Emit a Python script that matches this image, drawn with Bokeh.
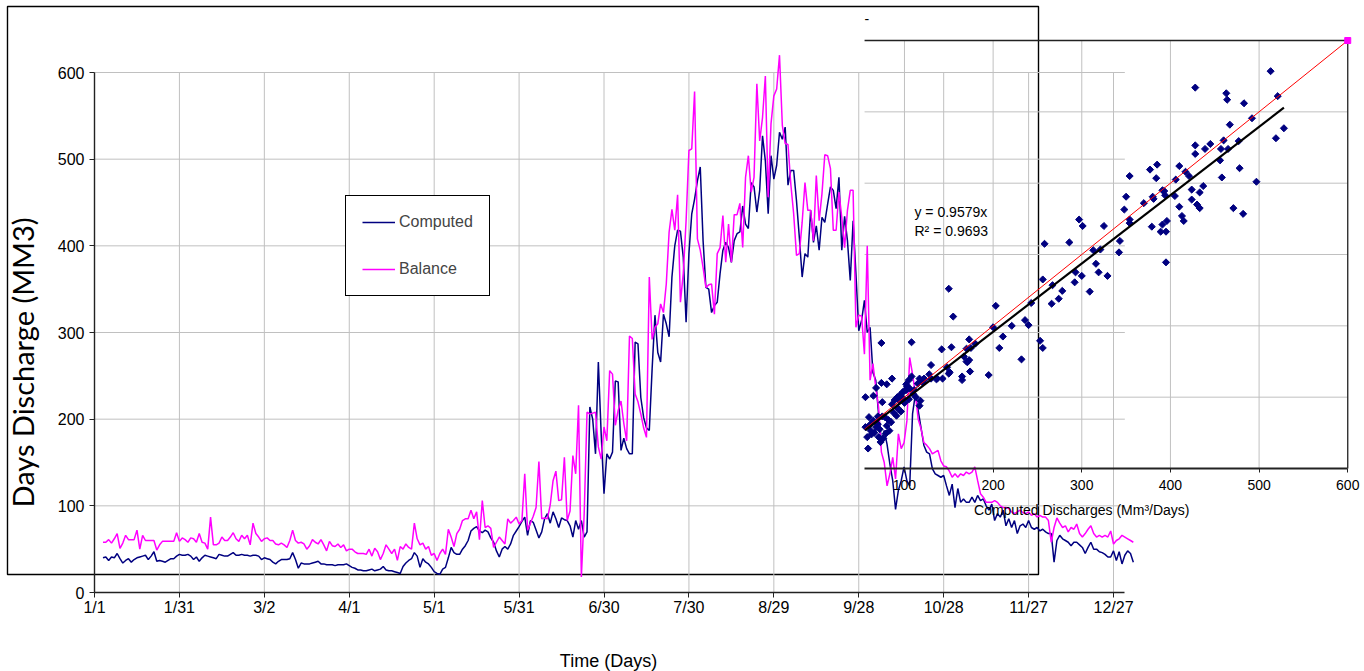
import math
from bokeh.plotting import figure
from bokeh.models import Range1d, LinearAxis, FixedTicker, Legend, LegendItem
from bokeh.core.properties import value
from bokeh.embed import file_html
from bokeh.resources import INLINE

# ---------------- main time-series chart ----------------
tick_days = [0, 30, 60, 90, 120, 150, 180, 210, 240, 270, 300, 330, 360]
tick_labels = ["1/1", "1/31", "3/2", "4/1", "5/1", "5/31", "6/30", "7/30",
               "8/29", "9/28", "10/28", "11/27", "12/27"]
y_ticks = [0, 100, 200, 300, 400, 500, 600]
first_day = 3

balance = [
    58, 58, 61, 57, 62, 68, 51, 57, 66, 61,
    61, 61, 72, 50, 66, 60, 60, 60, 60, 49,
    55, 59, 59, 59, 59, 59, 69, 59, 63, 61,
    58, 63, 62, 58, 68, 58, 57, 50, 87, 55,
    55, 57, 64, 60, 60, 64, 69, 62, 59, 66,
    62, 66, 55, 80, 68, 64, 59, 62, 63, 60,
    60, 56, 55, 57, 55, 52, 60, 72, 60, 57,
    58, 56, 50, 54, 61, 58, 56, 61, 55, 48,
    59, 54, 53, 56, 52, 55, 48, 50, 50, 47,
    45, 45, 45, 44, 50, 42, 51, 47, 38, 45,
    55, 50, 45, 50, 37, 53, 50, 56, 52, 50,
    80, 62, 55, 57, 50, 53, 43, 45, 37, 45,
    50, 44, 73, 64, 53, 68, 73, 83, 85, 85,
    95, 85, 93, 61, 106, 75, 77, 74, 52, 58,
    64, 60, 56, 85, 80, 83, 87, 79, 83, 137,
    72, 80, 88, 98, 151, 85, 86, 85, 101, 129,
    140, 106, 107, 156, 83, 94, 158, 137, 216, 18,
    91, 208, 206, 207, 208, 168, 154, 191, 175, 256,
    252, 193, 210, 221, 195, 175, 296, 293, 229, 220,
    206, 190, 179, 364, 292, 306, 310, 333, 323, 356,
    416, 442, 418, 459, 335, 368, 429, 510, 512, 578,
    408, 395, 375, 352, 355, 356, 321, 391, 398, 435,
    381, 425, 381, 436, 436, 449, 398, 479, 504, 462,
    479, 587, 521, 548, 596, 456, 541, 573, 581, 620,
    539, 518, 517, 471, 437, 389, 391, 427, 473, 441,
    441, 406, 481, 429, 460, 505, 504, 489, 418, 418,
    462, 433, 398, 441, 464, 464, 306, 320, 319, 275,
    400, 245, 264, 237, 214, 162, 150, 123, 137, 156,
    131, 183, 166, 173, 198, 271, 252, 229, 200, 189,
    173, 170, 166, 160, 162, 164, 152, 146, 145, 140,
    133, 137, 133, 137, 135, 139, 137, 139, 145, 129,
    114, 110, 104, 104, 104, 106, 104, 100, 98, 98,
    97, 93, 91, 93, 95, 92, 91, 93, 89, 91,
    87, 89, 87, 87, 83, 58, 75, 86, 80, 75,
    77, 70, 75, 73, 79, 68, 64, 68, 73, 77,
    68, 64, 66, 64, 66, 64, 71, 56, 60, 62,
    66, 64, 62, 60, 58,
]

computed = [
    40, 41, 37, 41, 40, 45, 39, 34, 37, 39,
    35, 38, 40, 41, 42, 43, 38, 42, 47, 36,
    37, 36, 35, 37, 39, 39, 42, 44, 43, 43,
    44, 42, 38, 41, 36, 40, 43, 42, 41, 40,
    39, 44, 43, 42, 42, 44, 46, 43, 43, 44,
    43, 43, 42, 43, 43, 42, 38, 40, 39, 38,
    35, 33, 36, 38, 38, 38, 39, 46, 38, 28,
    34, 33, 33, 33, 34, 35, 36, 33, 33, 32,
    32, 32, 31, 32, 32, 32, 33, 31, 29, 28,
    26, 26, 25, 25, 26, 27, 25, 26, 27, 30,
    26, 25, 25, 24, 23, 22, 30, 34, 37, 39,
    46, 42, 29, 39, 35, 33, 29, 24, 22, 21,
    27, 29, 40, 52, 46, 44, 44, 50, 54, 60,
    71, 74, 76, 71, 69, 72, 70, 63, 58, 48,
    41, 50, 53, 50, 56, 66, 71, 76, 82, 87,
    66, 83, 81, 72, 63, 70, 85, 91, 80, 93,
    85, 75, 86, 84, 83, 77, 64, 83, 73, 83,
    64, 70, 214, 200, 160, 266, 183, 114, 160, 154,
    162, 244, 243, 164, 178, 166, 160, 160, 289, 287,
    225, 202, 190, 187, 258, 320, 277, 266, 321, 310,
    295, 364, 400, 418, 417, 387, 312, 391, 437, 454,
    475, 491, 406, 352, 350, 323, 331, 335, 368, 395,
    404, 398, 381, 406, 414, 416, 446, 425, 420, 473,
    468, 439, 464, 527, 498, 437, 504, 477, 493, 531,
    523, 537, 470, 487, 487, 452, 410, 364, 391, 387,
    441, 404, 423, 395, 433, 427, 448, 468, 464, 443,
    479, 395, 434, 406, 360, 429, 368, 302, 314, 337,
    300, 306, 254, 245, 206, 175, 187, 171, 148, 129,
    96, 118, 129, 145, 129, 123, 206, 229, 210, 190,
    170, 162, 160, 143, 137, 135, 133, 135, 123, 112,
    125, 98, 120, 104, 108, 104, 104, 110, 104, 112,
    106, 108, 100, 95, 102, 83, 91, 87, 95, 77,
    85, 75, 83, 68, 77, 79, 75, 83, 75, 73,
    75, 71, 73, 70, 68, 68, 35, 60, 66, 62,
    60, 58, 54, 58, 58, 55, 52, 45, 52, 58,
    50, 50, 47, 46, 44, 41, 41, 48, 37, 47,
    33, 43, 48, 45, 35,
]

n = min(len(balance), len(computed))
days = [first_day + i for i in range(n)]
balance = balance[:n]
computed = computed[:n]

# ---------------- scatter (computed vs balance) ----------------
scatter_computed = [
    513, 428, 463, 464, 483, 521, 492, 467, 528, 519, 477, 460, 465, 457, 428, 439,
    445, 428, 456, 478, 458, 497, 410, 417, 421, 406, 424, 433, 437, 377, 385, 384,
    354, 350, 348, 370, 380, 381, 391, 393, 394, 405, 410, 424, 430, 433, 471, 482,
    413, 415, 396, 391, 379, 389, 395, 395, 354, 354, 325, 297, 301, 286, 258, 343,
    342, 313, 321, 316, 293, 300, 319, 329, 292, 309, 256, 267, 278, 274, 266, 243,
    150, 155, 203, 236, 240, 221, 200, 211, 207, 232, 253, 256, 195, 173, 180, 170,
    175, 153, 142, 130, 167, 170, 173, 171, 148, 151, 150, 165, 174, 128, 74, 108,
    86, 117, 122, 130, 137, 143, 165, 136, 123, 120, 108, 105, 102, 80, 74, 68,
    65, 56, 95, 92, 89, 98, 100, 103, 115, 118, 117, 113, 96, 91, 75, 85,
    78, 70, 65, 60, 56, 62, 68, 71, 76, 79, 83, 73, 63, 58, 59, 75,
    60, 64, 66, 70, 72, 80, 82, 88, 92, 100, 105, 110, 86, 94, 102, 106,
    111, 98,
]
scatter_balance = [
    557, 534, 526, 517, 512, 522, 491, 482, 477, 463, 459, 460, 448, 448, 453, 448,
    455, 441, 432, 421, 408, 402, 424, 416, 410, 405, 391, 387, 396, 419, 426, 407,
    410, 381, 363, 372, 381, 378, 390, 389, 383, 382, 367, 377, 370, 365, 365, 357,
    354, 347, 347, 342, 339, 332, 332, 289, 349, 344, 340, 349, 340, 317, 315, 319,
    303, 306, 307, 287, 275, 270, 275, 270, 261, 248, 265, 257, 249, 238, 231, 232,
    252, 213, 228, 208, 201, 200, 198, 185, 169, 153, 179, 169, 131, 181, 175, 168,
    169, 170, 167, 145, 157, 150, 152, 149, 142, 135, 133, 129, 136, 132, 176, 177,
    126, 126, 126, 126, 126, 126, 124, 125, 125, 121, 129, 124, 118, 118, 120, 113,
    102, 100, 103, 100, 96, 107, 109, 115, 119, 95, 88, 100, 80, 74, 93, 65,
    72, 73, 67, 72, 58, 53, 58, 44, 42, 49, 53, 37, 48, 44, 28, 73,
    60, 65, 50, 62, 55, 60, 68, 78, 85, 92, 97, 104, 90, 95, 110, 112,
    110, 99,
]
m = min(len(scatter_computed), len(scatter_balance))
scatter_computed = scatter_computed[:m]
scatter_balance = scatter_balance[:m]

trend_slope = 0.9579
r_squared = 0.9693
sc_ticks = [100, 200, 300, 400, 500, 600]
sc_grid_y = [100, 200, 300, 400, 500]
sc_left, sc_max = 55, 600

trend_x = [min(scatter_computed), max(scatter_computed)]
trend_y = [trend_slope * v for v in trend_x]
one_to_one = [sc_left, sc_max]

FONT = "Liberation Sans"
GRID = "#c0c0c0"
AX = "#222222"

p = figure(width=1364, height=671, output_backend="svg", toolbar_location=None,
           x_range=Range1d(-33.21, 448.67), y_range=Range1d(-91.15, 683.08),
           x_axis_location=None, y_axis_location=None, min_border=0,
           outline_line_color=None, background_fill_color="white",
           border_fill_color="white")
p.extra_x_ranges = {"sx": Range1d(-919.6, 618.9)}
p.extra_y_ranges = {"sy": Range1d(-284.6, 656.1)}
p.grid.visible = False

# outer frame of the pasted chart object
p.quad(left=[-30.74], right=[333.5], bottom=[20.77], top=[676.2],
       fill_color=None, line_color="black", line_width=1.4)

# main grid lines
p.segment(x0=[0] * (len(y_ticks) - 1), x1=[364] * (len(y_ticks) - 1),
          y0=y_ticks[1:], y1=y_ticks[1:], line_color=GRID, line_width=1)
p.segment(x0=tick_days[1:], x1=tick_days[1:], y0=[0] * (len(tick_days) - 1),
          y1=[600] * (len(tick_days) - 1), line_color=GRID, line_width=1)

# scatter grid lines
p.segment(x0=[sc_left] * len(sc_grid_y), x1=[sc_max] * len(sc_grid_y),
          y0=sc_grid_y, y1=sc_grid_y, line_color=GRID, line_width=1,
          x_range_name="sx", y_range_name="sy")
p.segment(x0=sc_ticks[:-1], x1=sc_ticks[:-1], y0=[0] * (len(sc_ticks) - 1),
          y1=[sc_max] * (len(sc_ticks) - 1), line_color=GRID, line_width=1,
          x_range_name="sx", y_range_name="sy")

# main series
r_comp = p.line(days, computed, line_color="#000080", line_width=1.5)
r_bal = p.line(days, balance, line_color="#ff00ff", line_width=1.5)

# scatter plot-area border (top / right)
p.segment(x0=[sc_left, sc_max], x1=[sc_max, sc_max], y0=[sc_max, 0], y1=[sc_max, sc_max],
          line_color=AX, line_width=1.3, x_range_name="sx", y_range_name="sy")

p.scatter(scatter_computed, scatter_balance, marker="square", angle=math.pi / 4,
          size=5, line_width=1, color="#000080", x_range_name="sx", y_range_name="sy")
p.line(one_to_one, one_to_one, line_color="#ff0000", line_width=1,
       x_range_name="sx", y_range_name="sy")
p.line(trend_x, trend_y, line_color="black", line_width=2.2,
       x_range_name="sx", y_range_name="sy")
p.scatter([sc_max], [sc_max], marker="square", size=6, color="#ff00ff",
          x_range_name="sx", y_range_name="sy")

# axes
yax = LinearAxis(fixed_location=0, bounds=(0, 600), ticker=FixedTicker(ticks=y_ticks))
xax = LinearAxis(fixed_location=0, bounds=(0, 364), ticker=FixedTicker(ticks=tick_days),
                 major_label_overrides={d: l for d, l in zip(tick_days, tick_labels)})
sax = LinearAxis(x_range_name="sx", y_range_name="sy", fixed_location=0,
                 bounds=(sc_left, sc_max), ticker=FixedTicker(ticks=sc_ticks))
for ax, fs in ((yax, "16px"), (xax, "16px"), (sax, "14px")):
    ax.axis_line_color = AX
    ax.axis_line_width = 1.4
    ax.major_tick_line_color = AX
    ax.major_tick_in = 0
    ax.major_tick_out = 5
    ax.minor_tick_line_color = None
    ax.major_label_text_font = FONT
    ax.major_label_text_font_size = fs
    ax.major_label_text_color = "black"
yax.major_label_standoff = 5
xax.major_label_standoff = 1
sax.major_tick_out = 4
sax.major_label_standoff = 8
sax.axis_line_width = 2
p.add_layout(yax, "left")
p.add_layout(xax, "below")
p.add_layout(sax, "below")

# texts
p.text(x=[-25.6], y=[265.4], text=["Days Discharge (MM3)"], angle=math.pi / 2,
       text_align="center", text_baseline="middle", text_font=value("Lato"),
       text_font_size="29px", text_color="black")
p.text(x=[181.6], y=[-79.6], text=["Time (Days)"], text_align="center",
       text_baseline="middle", text_font=value(FONT), text_font_size="18px",
       text_color="black")
p.text(x=[111.3, 111.3], y=[359.0, 332.3],
       text=["y = %.4fx" % trend_slope, "R\u00b2 = %.4f" % r_squared],
       text_align="left", text_baseline="middle", text_font=value(FONT),
       text_font_size="14px", text_color="black", x_range_name="sx", y_range_name="sy")
p.text(x=[300], y=[-57.5], text=["Computed Discharges (Mm\u00b3/Days)"],
       text_align="center", text_baseline="middle", text_font=value(FONT),
       text_font_size="14px", text_color="black", x_range_name="sx", y_range_name="sy")
p.text(x=[sc_left], y=[629.5], text=["-"], text_align="left", text_baseline="middle",
       text_font=value(FONT), text_font_size="14px", text_color="black",
       x_range_name="sx", y_range_name="sy")

legend = Legend(items=[LegendItem(label="Computed", renderers=[r_comp]),
                       LegendItem(label="Balance", renderers=[r_bal])],
                location=(345, 375), border_line_color="black", border_line_width=1.2,
                border_line_alpha=1.0,
                background_fill_color="white", background_fill_alpha=1.0,
                padding=16, spacing=27, glyph_width=33, glyph_height=20,
                label_height=20, label_standoff=4, margin=0,
                label_text_font=FONT, label_text_font_size="16px")
p.add_layout(legend)

open("out.html", "w").write(file_html(p, INLINE))
